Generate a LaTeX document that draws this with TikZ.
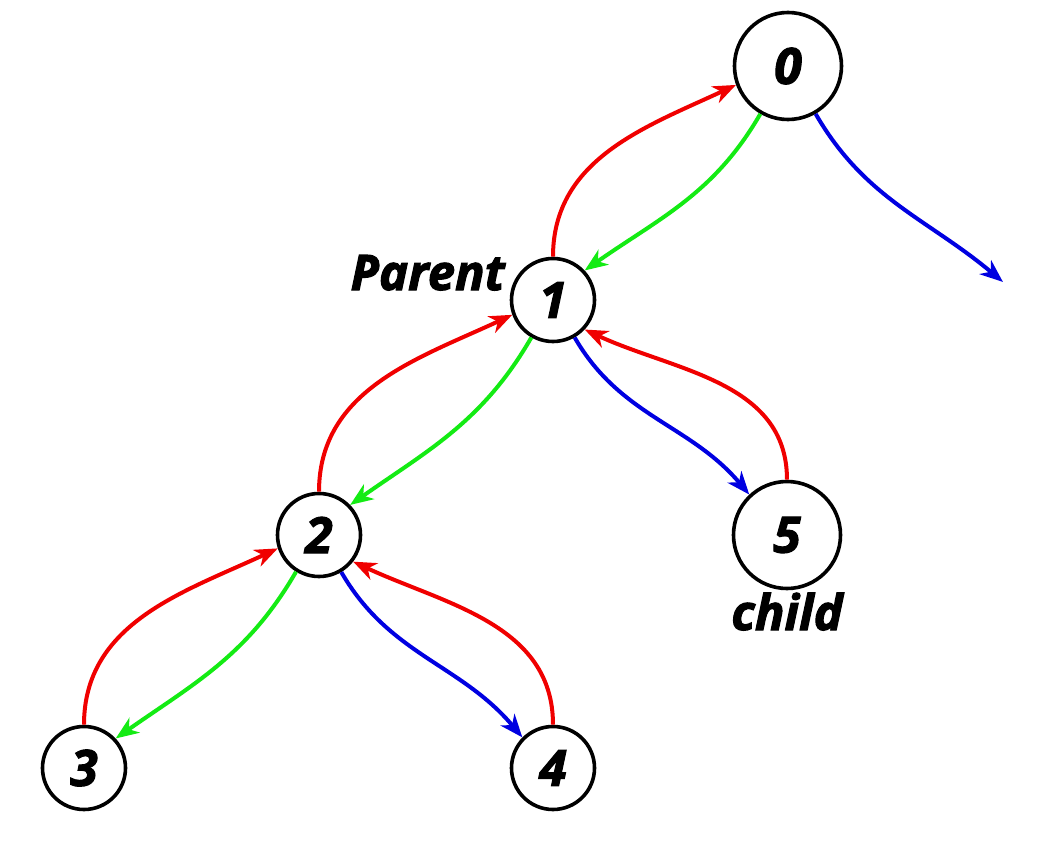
\documentclass[tikz,border=0pt]{standalone}
\usepackage{fontspec}
\setmainfont{Open Sans}[BoldItalicFeatures={FakeBold=2.2}]
\usetikzlibrary{arrows.meta}
\definecolor{ered}{RGB}{240,0,0}
\definecolor{egreen}{RGB}{20,235,20}
\definecolor{eblue}{RGB}{0,0,225}
\tikzset{
  vsmall/.style={circle, draw=black, line width=3.6pt, minimum size=83pt, inner sep=0pt,
    font=\fontsize{50}{54}\selectfont\bfseries\itshape},
  vbig/.style={vsmall, minimum size=107pt},
  lbl/.style={inner sep=0pt, font=\fontsize{49}{53}\selectfont\bfseries\itshape},
  edge/.style={line width=4pt, -{Stealth[length=23pt,width=18pt,inset=7pt]}},
  up/.style={edge, ered},
  lft/.style={edge, egreen},
  rgt/.style={edge, eblue},
}
\begin{document}
\begin{tikzpicture}[x=1pt, y=-1pt]
\useasboundingbox (0,0) rectangle (1042,859);
\node[vbig]   (n0) at (788,66)  {0};
\node[vsmall] (n1) at (553,300) {1};
\node[vsmall] (n2) at (319,535) {2};
\node[vbig]   (n5) at (787,535) {5};
\node[vsmall] (n3) at (84,768)  {3};
\node[vsmall] (n4) at (553,768) {4};
\node[lbl, anchor=base east] (parent) at (505,290) {Parent};
\node[lbl, anchor=base] (child) at (787,630) {child};
\coordinate (nil) at (1003,282);
% 0 and 1
\draw[up]  (n1.north) to[out=90, in=205] (n0.200);
\draw[lft] (n0.240) to[out=240, in=35] (n1.43);
\draw[rgt] (n0.300) to[out=-60, in=140] (nil);
% 1 and children
\draw[up]  (n2.north) to[out=90, in=205] (n1.200);
\draw[lft] (n1.240) to[out=240, in=35] (n2.44);
\draw[rgt] (n1.300) to[out=-60, in=130] (n5.133);
\draw[up]  (n5.north) to[out=90, in=-25] (n1.-43);
% 2 and children
\draw[up]  (n3.north) to[out=90, in=205] (n2.198);
\draw[lft] (n2.238) to[out=240, in=35] (n3.43);
\draw[rgt] (n2.301) to[out=-60, in=130] (n4.135);
\draw[up]  (n4.north) to[out=90, in=-25] (n2.-38);
\end{tikzpicture}
\end{document}
